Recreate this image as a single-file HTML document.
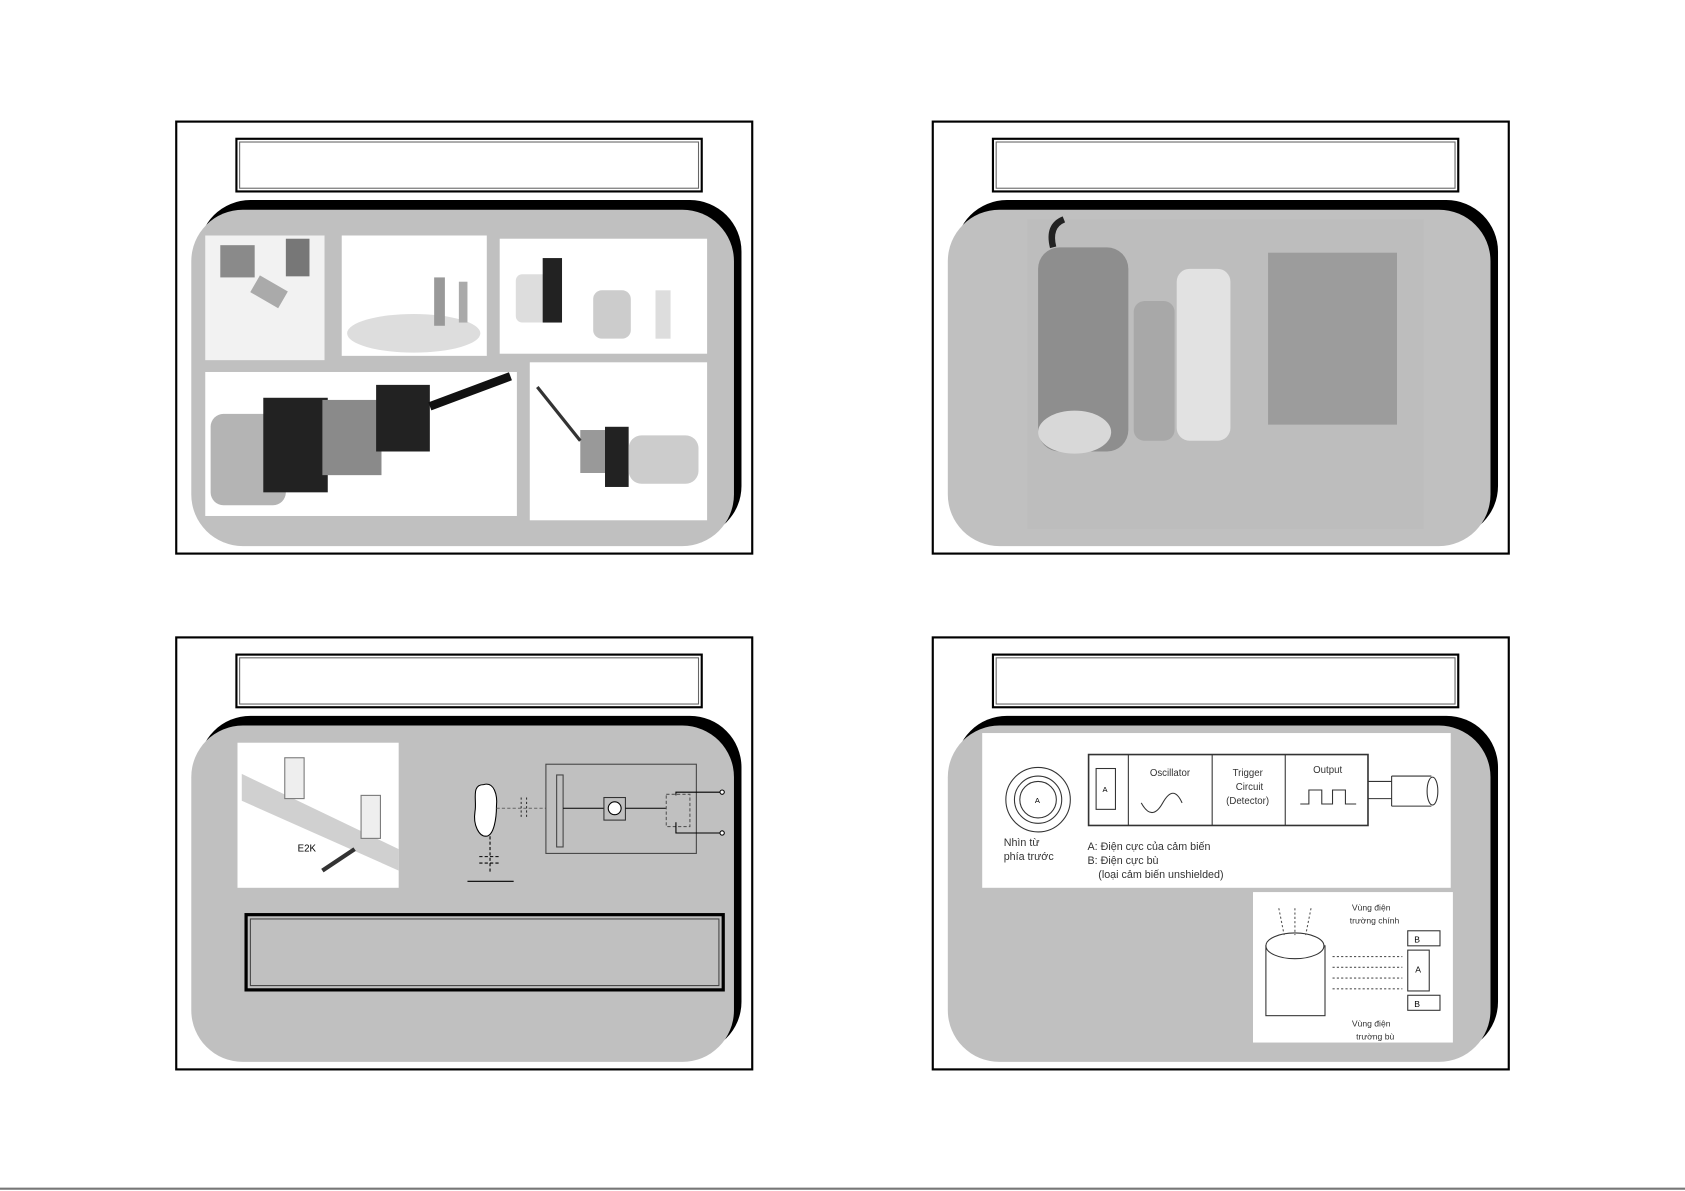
<!DOCTYPE html>
<html><head><meta charset="utf-8"><style>
html,body{margin:0;padding:0;background:#fff;}
svg{display:block;}
text{font-family:"Liberation Sans",sans-serif;}
</style></head><body>
<svg width="1685" height="1191" viewBox="0 0 1568 1108" xmlns="http://www.w3.org/2000/svg">
<defs>
<g id="frame">
  <rect x="0" y="0" width="536" height="402" fill="#fff" stroke="#000" stroke-width="2"/>
  <rect x="56" y="16" width="433" height="49" fill="#fff" stroke="#000" stroke-width="2"/>
  <rect x="59" y="19" width="427" height="43" fill="none" stroke="#666" stroke-width="1"/>
  <rect x="21" y="73" width="505" height="314" rx="48" fill="#000"/>
  <rect x="14" y="82" width="505" height="313" rx="48" fill="#c0c0c0"/>
</g>
</defs>

<!-- TL -->
<g transform="translate(164,113)"><use href="#frame"/></g>
<rect x="191" y="219" width="111" height="116" fill="#f2f2f2"/>
<rect x="205" y="228" width="32" height="30" fill="#8a8a8a"/><rect x="266" y="222" width="22" height="35" fill="#777"/>
<rect x="236" y="262" width="30" height="18" fill="#aaa" transform="rotate(30 250 270)"/>
<rect x="318" y="219" width="135" height="112" fill="#fff"/>
<ellipse cx="385" cy="310" rx="62" ry="18" fill="#ddd"/>
<rect x="404" y="258" width="10" height="45" fill="#999"/><rect x="427" y="262" width="8" height="38" fill="#aaa"/>
<rect x="465" y="222" width="193" height="107" fill="#fff"/>
<rect x="480" y="255" width="30" height="45" rx="6" fill="#ddd"/><rect x="505" y="240" width="18" height="60" fill="#222"/>
<rect x="552" y="270" width="35" height="45" rx="8" fill="#ccc"/><rect x="610" y="270" width="14" height="45" fill="#ddd"/>
<rect x="191" y="346" width="290" height="134" fill="#fff"/>
<rect x="196" y="385" width="70" height="85" rx="12" fill="#b4b4b4"/><rect x="245" y="370" width="60" height="88" fill="#222"/>
<rect x="300" y="372" width="55" height="70" fill="#8a8a8a"/><rect x="350" y="358" width="50" height="62" fill="#222"/>
<line x1="400" y1="378" x2="475" y2="350" stroke="#111" stroke-width="8"/>
<rect x="493" y="337" width="165" height="147" fill="#fff"/>
<rect x="540" y="400" width="30" height="40" fill="#999"/><rect x="563" y="397" width="22" height="56" fill="#222"/>
<rect x="585" y="405" width="65" height="45" rx="12" fill="#ccc"/>
<line x1="500" y1="360" x2="540" y2="410" stroke="#333" stroke-width="3"/>

<!-- TR -->
<g transform="translate(868,113)"><use href="#frame"/></g>
<rect x="956" y="204" width="369" height="288" fill="#bdbdbd"/>
<rect x="966" y="230" width="84" height="190" rx="20" fill="#8e8e8e"/>
<ellipse cx="1000" cy="402" rx="34" ry="20" fill="#d8d8d8"/>
<rect x="1055" y="280" width="38" height="130" rx="10" fill="#a8a8a8"/>
<rect x="1095" y="250" width="50" height="160" rx="12" fill="#e2e2e2"/>
<rect x="1180" y="235" width="120" height="160" fill="#9c9c9c"/>
<path d="M980 230 Q975 210 990 204" stroke="#222" stroke-width="6" fill="none"/>

<!-- BL -->
<g transform="translate(164,593)"><use href="#frame"/></g>
<rect x="221" y="691" width="150" height="135" fill="#fff"/>
<polygon points="225,720 371,790 371,810 225,745" fill="#d0d0d0"/>
<rect x="265" y="705" width="18" height="38" fill="#eee" stroke="#777"/>
<rect x="336" y="740" width="18" height="40" fill="#eee" stroke="#777"/>
<text x="277" y="792" font-size="9" font-family="Liberation Serif">E2K</text>
<line x1="300" y1="810" x2="330" y2="790" stroke="#333" stroke-width="4"/>
<path d="M450 730 C438 730 444 745 442 755 C440 768 446 778 452 778 C460 778 462 760 462 750 C463 740 460 727 450 730Z" fill="#fff" stroke="#000"/>
<line x1="462" y1="752" x2="508" y2="752" stroke="#666" stroke-dasharray="3,2"/>
<line x1="485" y1="742" x2="485" y2="762" stroke="#333" stroke-dasharray="2,2"/>
<line x1="490" y1="742" x2="490" y2="762" stroke="#333" stroke-dasharray="2,2"/>
<line x1="456" y1="778" x2="456" y2="812" stroke="#000" stroke-dasharray="3,2"/>
<line x1="446" y1="797" x2="466" y2="797" stroke="#000" stroke-dasharray="3,2"/>
<line x1="446" y1="803" x2="466" y2="803" stroke="#000" stroke-dasharray="3,2"/>
<line x1="435" y1="820" x2="478" y2="820" stroke="#000"/>
<rect x="508" y="711" width="140" height="83" fill="none" stroke="#444"/>
<rect x="518" y="721" width="6" height="67" fill="none" stroke="#444"/>
<line x1="524" y1="752" x2="562" y2="752" stroke="#000"/>
<rect x="562" y="742" width="20" height="21" fill="none" stroke="#333"/>
<circle cx="572" cy="752" r="6" fill="#fff" stroke="#000"/>
<line x1="582" y1="752" x2="620" y2="752" stroke="#000"/>
<rect x="620" y="739" width="22" height="30" fill="none" stroke="#555" stroke-dasharray="3,2"/>
<polyline points="629,740 629,737 672,737" fill="none" stroke="#000"/>
<polyline points="629,765 629,775 672,775" fill="none" stroke="#000"/>
<circle cx="672" cy="737" r="2" fill="#fff" stroke="#000"/><circle cx="672" cy="775" r="2" fill="#fff" stroke="#000"/>
<rect x="229" y="851" width="444" height="70" fill="none" stroke="#000" stroke-width="3"/>
<rect x="233" y="855" width="436" height="62" fill="none" stroke="#444"/>

<!-- BR -->
<g transform="translate(868,593)"><use href="#frame"/></g>
<rect x="914" y="682" width="436" height="144" fill="#fff"/>
<circle cx="966" cy="744" r="30" fill="none" stroke="#333"/><circle cx="966" cy="744" r="22" fill="none" stroke="#333"/><circle cx="966" cy="744" r="17" fill="none" stroke="#333"/>
<text x="963" y="747" font-size="7">A</text>
<rect x="1013" y="702" width="260" height="66" fill="none" stroke="#333" stroke-width="1.5"/>
<line x1="1050" y1="702" x2="1050" y2="768" stroke="#333"/><line x1="1128" y1="702" x2="1128" y2="768" stroke="#333"/><line x1="1196" y1="702" x2="1196" y2="768" stroke="#333"/>
<rect x="1020" y="715" width="18" height="38" fill="none" stroke="#333"/><text x="1026" y="737" font-size="7">A</text>
<text x="1070" y="722" font-size="9" fill="#333">Oscillator</text>
<text x="1147" y="722" font-size="9" fill="#333">Trigger</text><text x="1150" y="735" font-size="9" fill="#333">Circuit</text><text x="1141" y="748" font-size="9" fill="#333">(Detector)</text>
<text x="1222" y="719" font-size="9" fill="#333">Output</text>
<path d="M1062 747 Q1072 765 1082 747 T1100 747" fill="none" stroke="#333"/>
<polyline points="1210,748 1218,748 1218,735 1230,735 1230,748 1240,748 1240,735 1252,735 1252,748 1262,748" fill="none" stroke="#333"/>
<line x1="1273" y1="727" x2="1295" y2="727" stroke="#333"/><line x1="1273" y1="743" x2="1295" y2="743" stroke="#333"/>
<path d="M1295 722 H1332 M1295 750 H1332 M1295 722 V750" fill="none" stroke="#333"/><ellipse cx="1333" cy="736" rx="5" ry="13" fill="none" stroke="#333"/>
<text x="934" y="787" font-size="10" fill="#333">Nhìn từ</text><text x="934" y="800" font-size="10" fill="#333">phía trước</text>
<text x="1012" y="791" font-size="10" fill="#333">A: Điện cực của cảm biến</text>
<text x="1012" y="804" font-size="10" fill="#333">B: Điện cực bù</text>
<text x="1022" y="817" font-size="10" fill="#333">(loại cảm biến unshielded)</text>
<rect x="1166" y="830" width="186" height="140" fill="#fff"/>
<rect x="1178" y="880" width="55" height="65" fill="none" stroke="#333"/>
<ellipse cx="1205" cy="880" rx="27" ry="12" fill="#fff" stroke="#333"/>
<rect x="1310" y="866" width="30" height="14" fill="none" stroke="#333"/><text x="1316" y="877" font-size="8">B</text>
<rect x="1310" y="884" width="20" height="38" fill="none" stroke="#333"/><text x="1317" y="905" font-size="8">A</text>
<rect x="1310" y="926" width="30" height="14" fill="none" stroke="#333"/><text x="1316" y="937" font-size="8">B</text>
<text x="1258" y="847" font-size="8" fill="#333">Vùng điện</text><text x="1256" y="859" font-size="8" fill="#333">trường chính</text>
<text x="1258" y="955" font-size="8" fill="#333">Vùng điện</text><text x="1262" y="967" font-size="8" fill="#333">trường bù</text>
<g stroke="#555" stroke-dasharray="2,2"><line x1="1240" y1="890" x2="1305" y2="890"/><line x1="1240" y1="900" x2="1305" y2="900"/><line x1="1240" y1="910" x2="1305" y2="910"/><line x1="1240" y1="920" x2="1305" y2="920"/><line x1="1190" y1="845" x2="1195" y2="870"/><line x1="1205" y1="845" x2="1205" y2="870"/><line x1="1220" y1="845" x2="1215" y2="870"/></g>
<line x1="0" y1="1106" x2="1568" y2="1106" stroke="#777" stroke-width="2"/>
</svg>
</body></html>
